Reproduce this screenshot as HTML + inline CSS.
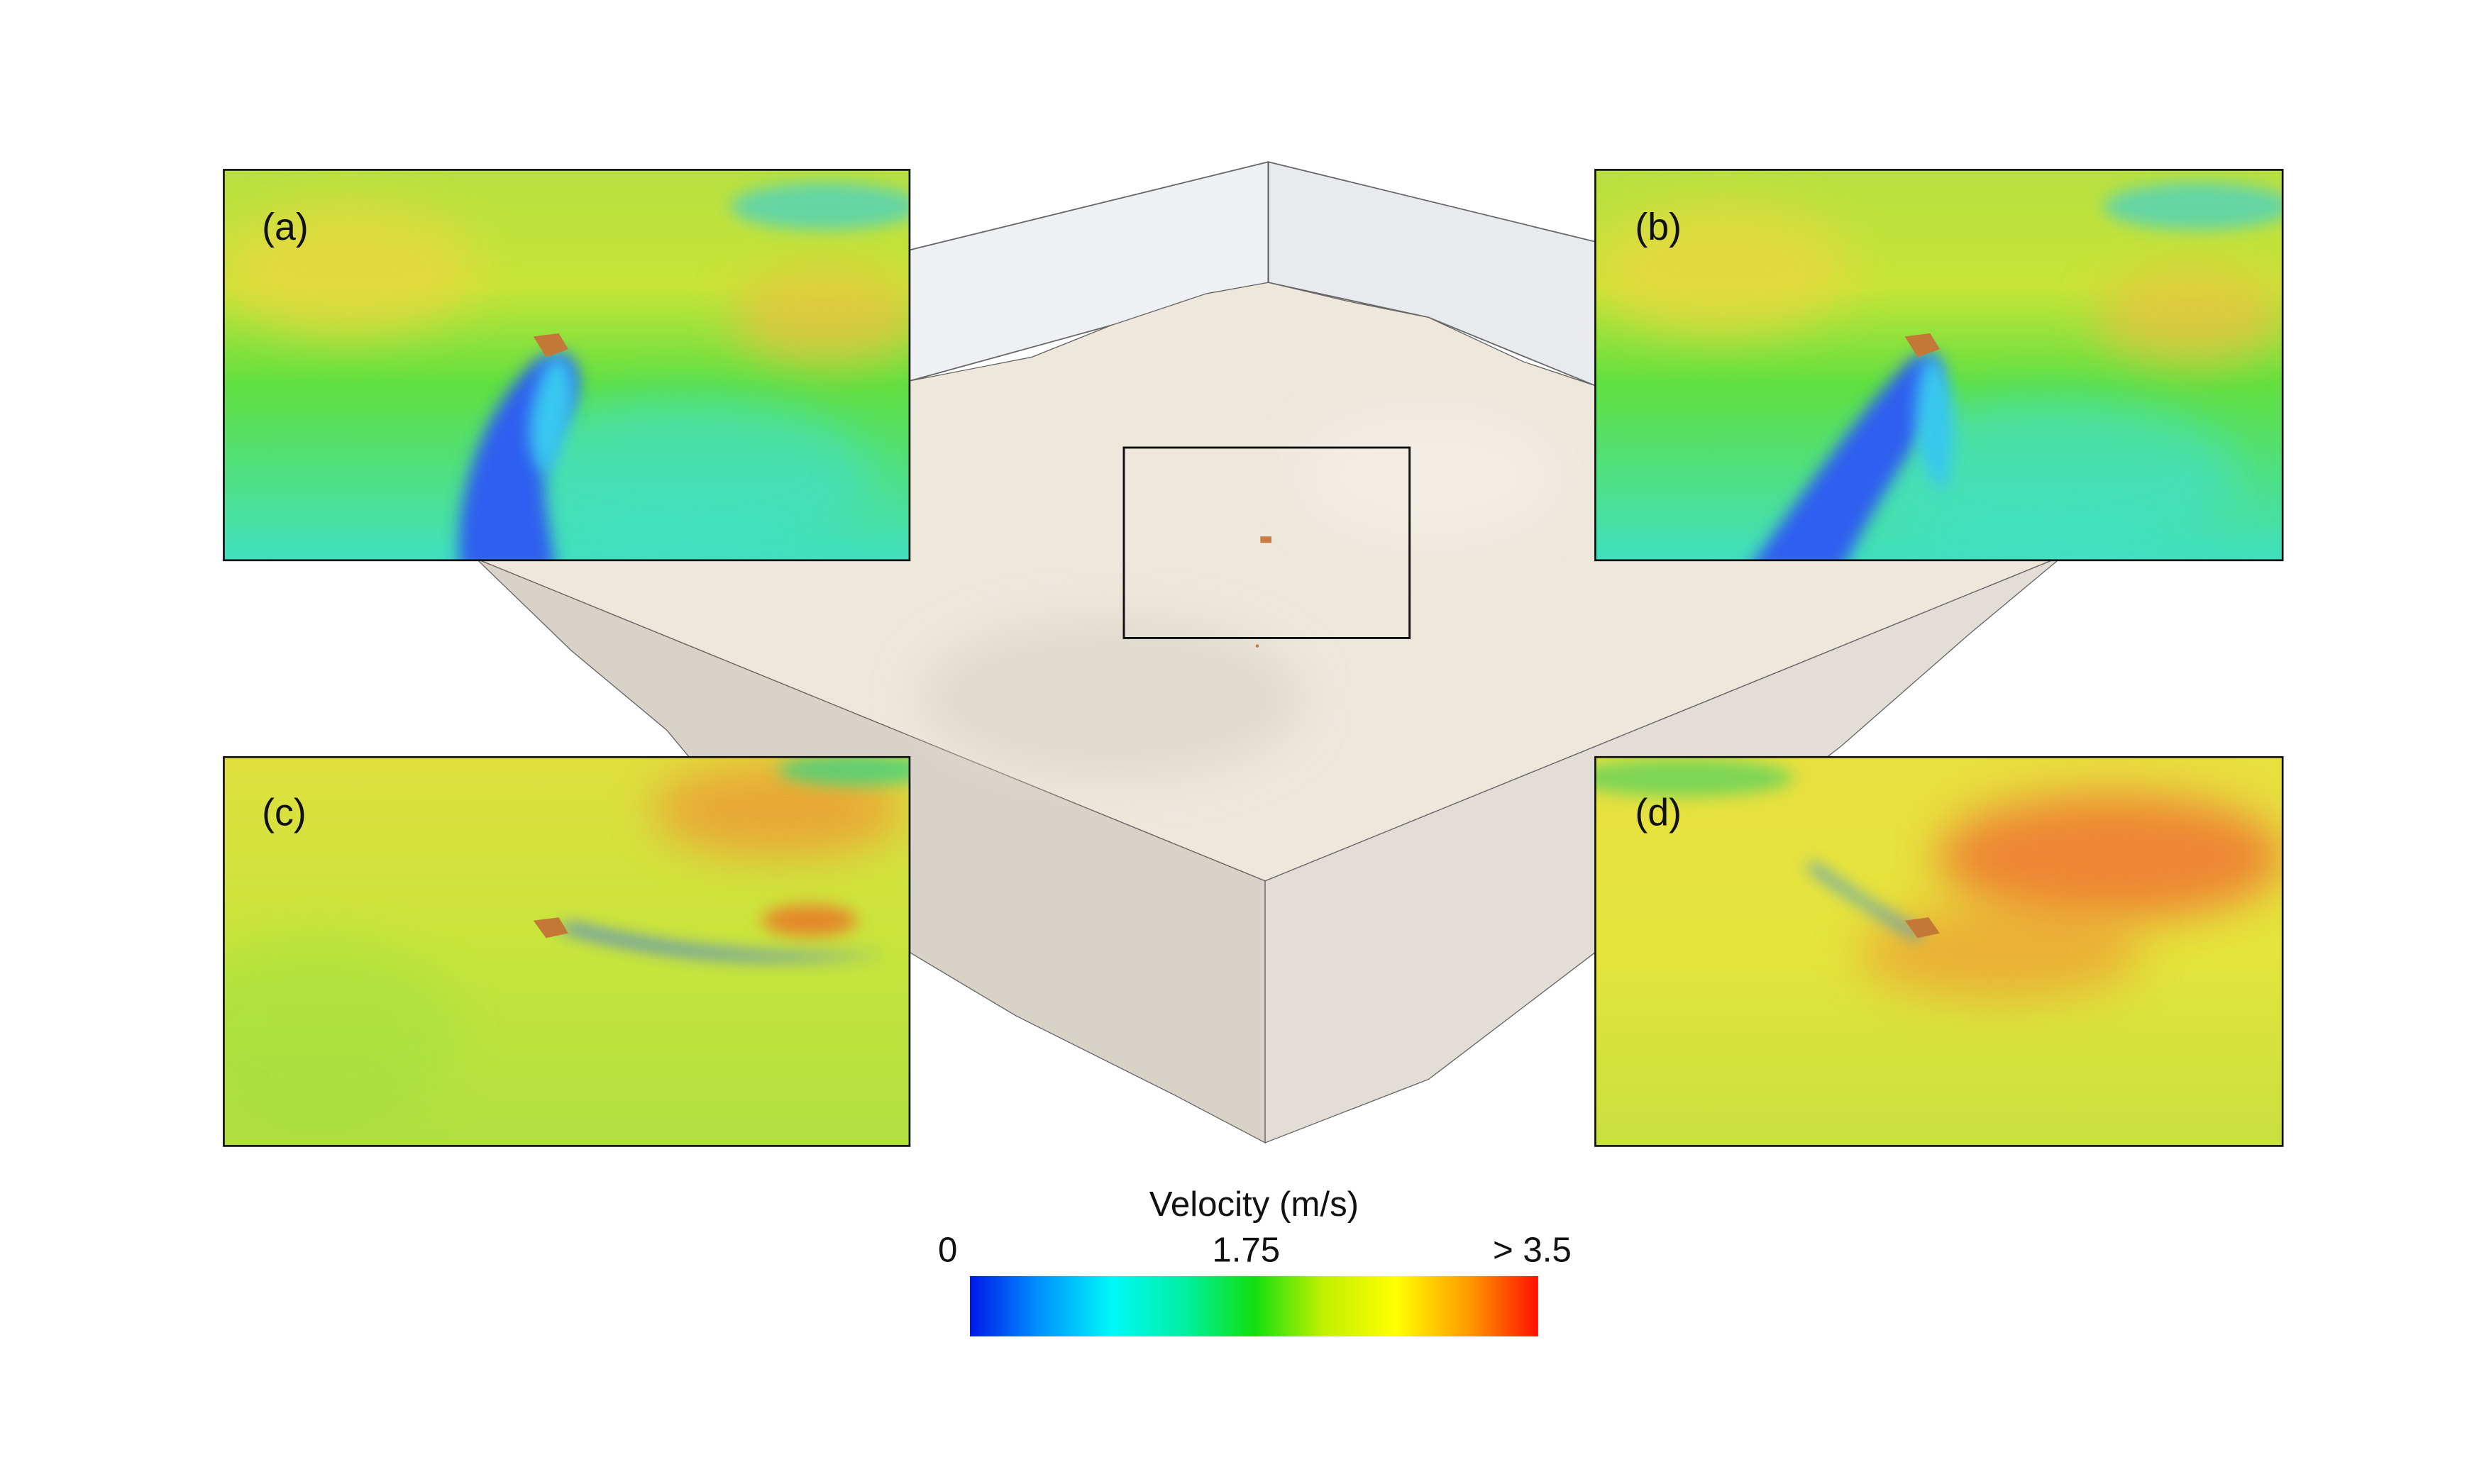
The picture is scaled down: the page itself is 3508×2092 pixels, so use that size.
<!DOCTYPE html>
<html><head><meta charset="utf-8"><style>
html,body{margin:0;padding:0;background:#fff;}
svg{display:block;}
text{font-family:"Liberation Sans","DejaVu Sans",sans-serif;fill:#111;}
</style></head><body>
<svg width="3508" height="2092" viewBox="0 0 1568 935" preserveAspectRatio="none" xmlns="http://www.w3.org/2000/svg">
<defs>
<filter id="bl" x="-50%" y="-50%" width="200%" height="200%"><feGaussianBlur stdDeviation="14"/></filter>
<filter id="bs" x="-50%" y="-50%" width="200%" height="200%"><feGaussianBlur stdDeviation="5"/></filter>
<linearGradient id="cb" x1="0" x2="1" y1="0" y2="0">
<stop offset="0" stop-color="#0018e8"/><stop offset="0.12" stop-color="#0090ff"/>
<stop offset="0.25" stop-color="#00f8f8"/><stop offset="0.38" stop-color="#00f0a0"/>
<stop offset="0.5" stop-color="#10e010"/><stop offset="0.62" stop-color="#c0f000"/>
<stop offset="0.75" stop-color="#ffff00"/><stop offset="0.88" stop-color="#ff9800"/>
<stop offset="1" stop-color="#ff1000"/></linearGradient>
<linearGradient id="ga" x1="0" y1="0" x2="0" y2="1">
<stop offset="0" stop-color="#b8e040"/><stop offset="0.3" stop-color="#c8e438"/>
<stop offset="0.55" stop-color="#60e040"/><stop offset="1" stop-color="#40e0c0"/></linearGradient>
<linearGradient id="gc" x1="0" y1="0" x2="0" y2="1">
<stop offset="0" stop-color="#e0e040"/><stop offset="0.5" stop-color="#c8e43c"/><stop offset="1" stop-color="#b0e040"/></linearGradient>
<linearGradient id="gd" x1="0" y1="0" x2="0" y2="1">
<stop offset="0" stop-color="#e8e040"/><stop offset="0.5" stop-color="#e4e43c"/><stop offset="1" stop-color="#c8e040"/></linearGradient>
<clipPath id="ca"><rect x="141" y="107" width="432" height="246"/></clipPath>
<clipPath id="cbp"><rect x="1005" y="107" width="433" height="246"/></clipPath>
<clipPath id="cc"><rect x="141" y="477" width="432" height="245"/></clipPath>
<clipPath id="cd"><rect x="1005" y="477" width="433" height="245"/></clipPath>
</defs>

<polygon points="799,102 400,200 400,300 573,240 700,205 799,178" fill="#eef0f4" stroke="#666" stroke-width="0.8"/>
<polygon points="799,102 1180,195 1180,300 1005,243 900,200 799,178" fill="#e8eaee" stroke="#666" stroke-width="0.8"/>
<line x1="799" y1="102" x2="799" y2="178" stroke="#555" stroke-width="0.8"/>
<polygon points="300,352 797,555 797,720 740,690 640,640 573,600 470,520 420,460 360,410" fill="#d8d2c9" stroke="#666" stroke-width="0.6"/>
<polygon points="797,555 1300,350 1240,400 1160,470 1070,540 1005,600 900,680 797,720" fill="#e2ddd6" stroke="#666" stroke-width="0.6"/>
<polygon points="300,352 573,240 650,225 700,205 760,185 799,178 850,190 900,200 960,228 1005,243 1300,350 797,555" fill="#ede7dc" stroke="#666" stroke-width="0.6"/>
<ellipse cx="700" cy="440" rx="120" ry="50" fill="#e0d9ce" filter="url(#bl)"/>
<ellipse cx="900" cy="300" rx="80" ry="40" fill="#f3eee5" filter="url(#bl)"/>
<rect x="708" y="282" width="180" height="120" fill="none" stroke="#111" stroke-width="1.3"/>
<rect x="794" y="338" width="7" height="4" fill="#c87a40"/>
<circle cx="792" cy="407" r="1" fill="#c87a40"/>

<g clip-path="url(#ca)">
<rect x="141" y="107" width="432" height="246" fill="url(#ga)"/>
<ellipse cx="220" cy="170" rx="80" ry="40" fill="#e8d840" filter="url(#bl)" opacity="0.8"/>
<ellipse cx="520" cy="200" rx="60" ry="30" fill="#f0c040" filter="url(#bl)" opacity="0.7"/>
<ellipse cx="520" cy="130" rx="60" ry="15" fill="#40d0d0" filter="url(#bs)" opacity="0.7"/>
<ellipse cx="430" cy="300" rx="120" ry="50" fill="#40e0d0" filter="url(#bl)" opacity="0.6"/>
<path d="M340,225 C300,260 285,320 290,360 L350,360 C345,320 335,290 355,265 C370,245 365,228 355,222 Z" fill="#2e5ff0" filter="url(#bs)"/>
<path d="M345,228 C330,260 330,290 345,300 C360,270 368,245 355,225 Z" fill="#38c8f0" filter="url(#bs)"/>
<polygon points="336,212 352,210 358,220 344,225" fill="#c47838"/>
</g>
<rect x="141" y="107" width="432" height="246" fill="none" stroke="#111" stroke-width="1.2"/>
<text x="165" y="151" font-size="24">(a)</text>

<g clip-path="url(#cbp)">
<rect x="1005" y="107" width="433" height="246" fill="url(#ga)"/>
<ellipse cx="1085" cy="170" rx="80" ry="40" fill="#e8d840" filter="url(#bl)" opacity="0.8"/>
<ellipse cx="1380" cy="200" rx="60" ry="30" fill="#f0c040" filter="url(#bl)" opacity="0.7"/>
<ellipse cx="1385" cy="130" rx="60" ry="15" fill="#40d0d0" filter="url(#bs)" opacity="0.7"/>
<ellipse cx="1290" cy="300" rx="120" ry="50" fill="#40e0d0" filter="url(#bl)" opacity="0.6"/>
<path d="M1205,225 C1170,260 1130,320 1100,360 L1160,360 C1180,320 1200,290 1215,265 C1225,245 1225,228 1218,222 Z" fill="#2e5ff0" filter="url(#bs)"/>
<path d="M1212,228 C1200,270 1210,300 1225,310 C1235,270 1232,245 1220,225 Z" fill="#38c8f0" filter="url(#bs)"/>
<polygon points="1200,212 1216,210 1222,220 1208,225" fill="#c47838"/>
</g>
<rect x="1005" y="107" width="433" height="246" fill="none" stroke="#111" stroke-width="1.2"/>
<text x="1030" y="151" font-size="24">(b)</text>

<g clip-path="url(#cc)">
<rect x="141" y="477" width="432" height="245" fill="url(#gc)"/>
<ellipse cx="490" cy="510" rx="80" ry="30" fill="#f09030" filter="url(#bl)" opacity="0.7"/>
<ellipse cx="510" cy="580" rx="30" ry="10" fill="#f06020" filter="url(#bs)" opacity="0.7"/>
<ellipse cx="540" cy="485" rx="50" ry="10" fill="#40d080" filter="url(#bs)" opacity="0.8"/>
<ellipse cx="200" cy="650" rx="90" ry="60" fill="#90e040" filter="url(#bl)" opacity="0.35"/>
<path d="M350,585 C400,600 480,612 560,600 C480,605 410,595 360,582 Z" fill="#3070f0" filter="url(#bs)" opacity="0.9"/>
<polygon points="336,580 352,578 358,588 344,591" fill="#c47838"/>
</g>
<rect x="141" y="477" width="432" height="245" fill="none" stroke="#111" stroke-width="1.2"/>
<text x="165" y="520" font-size="24">(c)</text>

<g clip-path="url(#cd)">
<rect x="1005" y="477" width="433" height="245" fill="url(#gd)"/>
<ellipse cx="1330" cy="540" rx="110" ry="40" fill="#f07030" filter="url(#bl)" opacity="0.8"/>
<ellipse cx="1260" cy="600" rx="90" ry="30" fill="#f09030" filter="url(#bl)" opacity="0.6"/>
<ellipse cx="1060" cy="490" rx="70" ry="12" fill="#50d060" filter="url(#bs)" opacity="0.7"/>
<path d="M1140,545 C1170,565 1190,580 1210,590 C1185,575 1160,560 1140,545 Z" stroke="#3090e0" stroke-width="4" fill="none" filter="url(#bs)"/>
<polygon points="1200,580 1215,578 1222,588 1208,591" fill="#c47838"/>
</g>
<rect x="1005" y="477" width="433" height="245" fill="none" stroke="#111" stroke-width="1.2"/>
<text x="1030" y="520" font-size="24">(d)</text>

<text x="790" y="766" font-size="22" text-anchor="middle">Velocity (m/s)</text>
<text x="597" y="795" font-size="22" text-anchor="middle">0</text>
<text x="785" y="795" font-size="22" text-anchor="middle">1.75</text>
<text x="990" y="795" font-size="22" text-anchor="end">&gt; 3.5</text>
<rect x="611" y="804" width="358" height="38" fill="url(#cb)"/>
</svg>
</body></html>
